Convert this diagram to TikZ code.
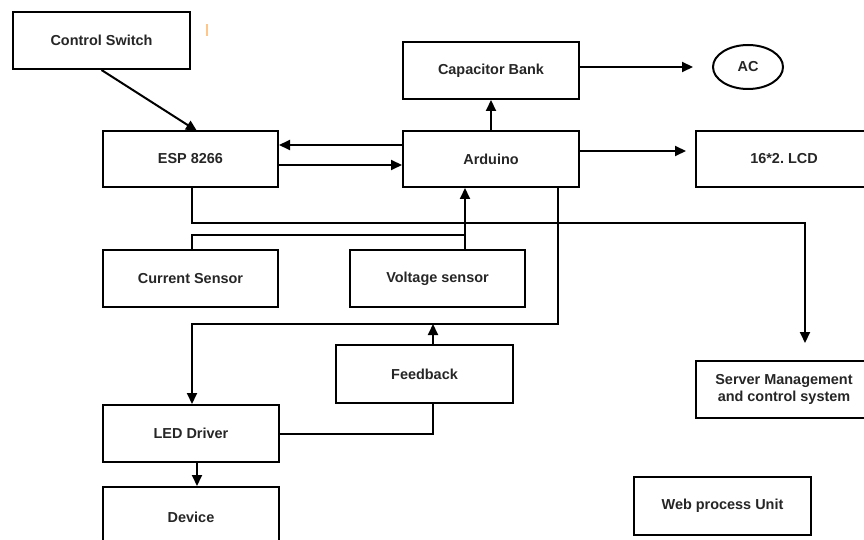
\documentclass[tikz,border=0pt]{standalone}
\usepackage{fontspec}
\setmainfont{Liberation Sans}
\usetikzlibrary{arrows.meta,shapes.geometric}
\begin{document}
\frenchspacing
\begin{tikzpicture}[x=1bp,y=-1bp,
  box/.style={draw, line width=2bp, rectangle, inner sep=0pt, align=center,
    font=\fontsize{14.5}{17}\selectfont\bfseries, text=black!85},
  wire/.style={line width=2bp},
  arr/.style={line width=2bp, -{Triangle[length=11bp,width=10bp]}}]
\clip (0,0) rectangle (864,540);
\fill[white] (0,0) rectangle (864,540);
% boxes
\node[box, minimum width=177bp, minimum height=57bp] (cs)   at (101.5,40.5) {Control Switch};
\node[box, minimum width=175bp, minimum height=56bp] (esp)  at (190.5,159)  {ESP 8266};
\node[box, minimum width=176bp, minimum height=57bp] (cap)  at (491,70.5)   {Capacitor Bank};
\node[box, minimum width=176bp, minimum height=56bp] (ard)  at (491,159)    {Arduino};
\node[box, ellipse, minimum width=70bp, minimum height=44bp] (ac) at (748,67) {AC};
\node[box, minimum width=176bp, minimum height=56bp] (lcd)  at (784,159)    {16*2. LCD};
\node[box, minimum width=175bp, minimum height=57bp] (cur)  at (190.5,278.5) {Current Sensor};
\node[box, minimum width=175bp, minimum height=57bp] (volt) at (437.5,278.5) {Voltage sensor};
\node[box, minimum width=177bp, minimum height=58bp] (fb)   at (424.5,374)  {Feedback};
\node[box, minimum width=176bp, minimum height=57bp] (led)  at (191,433.5)  {LED Driver};
\node[box, minimum width=176bp, minimum height=60bp] (dev)  at (191,517)    {Device};
\node[box, minimum width=176bp, minimum height=57bp] (srv)  at (784,389.5)  {Server Management\\and control system};
\node[box, minimum width=177bp, minimum height=58bp] (web)  at (722.5,506)  {Web process Unit};
% stray mark
\draw[orange!45, line width=2bp] (207,24) -- (207,36);
% connectors
\coordinate (csE) at (197,131);
\draw[arr] (cs.south) -- (csE);
\draw[arr] (ard.west |- 0,145) -- (esp.east |- 0,145);
\draw[arr] (esp.east |- 0,165) -- (ard.west |- 0,165);
\draw[arr] (ard.north) -- (cap.south);
\coordinate (acE) at (693,67);
\draw[arr] (cap.east |- acE) -- (acE);
\coordinate (lcdE) at (686,151);
\draw[arr] (ard.east |- lcdE) -- (lcdE);
\coordinate (srvE) at (805,343);
\draw[arr] (esp.south -| 192,0) -- (192,223) -- (805,223) -- (srvE);
\draw[wire] (cur.north -| 192,0) -- (192,235) -- (465,235);
\draw[arr] (volt.north -| 465,0) -- (ard.south -| 465,0);
\draw[arr] (ard.south -| 558,0) -- (558,324) -- (192,324) -- (led.north -| 192,0);
\draw[arr] (fb.north -| 433,0) -- (433,324);
\draw[wire] (led.east |- 0,434) -- (433,434) -- (fb.south -| 433,0);
\draw[arr] (led.south -| 197,0) -- (dev.north -| 197,0);
\end{tikzpicture}
\end{document}
